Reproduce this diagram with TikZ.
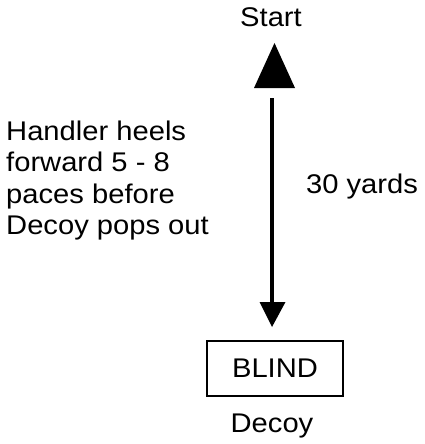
\documentclass[tikz,border=0pt]{standalone}
\usepackage{fontspec}
\setmainfont[FakeStretch=1.08]{Liberation Sans}
\begin{document}
\begin{tikzpicture}[x=1pt,y=-1pt,
  lbl/.style={font=\fontsize{27}{31.5}\selectfont, inner sep=0pt},
  boxnode/.style={lbl, draw, line width=1.4pt, minimum width=136pt, minimum height=55pt}]
\useasboundingbox (0,0) rectangle (425,444);
\node[lbl, anchor=base] (start) at (271,27) {Start};
\node[lbl, anchor=base west, align=left] (handler) at (6,234.5) {Handler heels\\forward 5 - 8\\paces before\\Decoy pops out};
\node[lbl, anchor=base] (yards) at (362,193) {30 yards};
\node[boxnode] (blind) at (275,368.5) {BLIND};
\node[lbl, anchor=base] (decoy) at (272,432) {Decoy};
\coordinate (linetop) at (272,98);
\coordinate (linebot) at (272,303);
\draw[line width=4pt] (linetop) -- (linebot);
\fill (272,327) -- (259.5,302) -- (285.5,302) -- cycle;
\fill (274.5,43) -- (254,88) -- (295,88) -- cycle;
\end{tikzpicture}
\end{document}
